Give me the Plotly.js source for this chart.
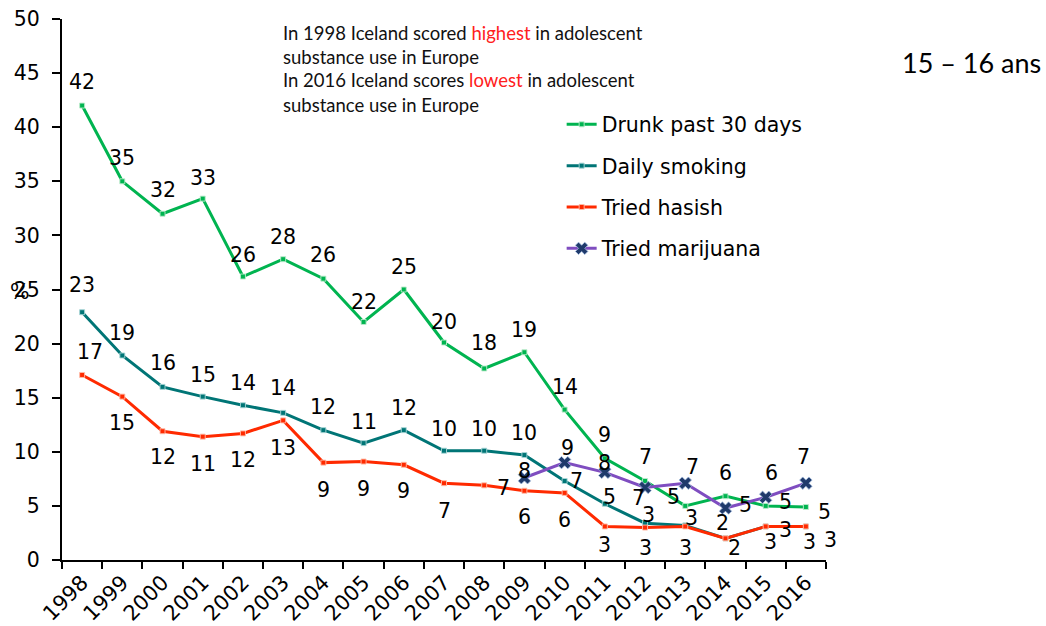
<!DOCTYPE html>
<html>
<head>
<meta charset="utf-8">
<script src="https://cdn.plot.ly/plotly-3.0.1.min.js"></script>
<style>html,body{margin:0;padding:0;background:#fff;}#chart{width:1046px;height:626px;}</style>
</head>
<body>
<div id="chart"></div>
<script>
// ---- data ----
var years = ["1998","1999","2000","2001","2002","2003","2004","2005","2006","2007","2008","2009","2010","2011","2012","2013","2014","2015","2016"];
var drunk = [42, 35, 32, 33.4, 26.2, 27.8, 26, 22, 25, 20.1, 17.7, 19.2, 13.9, 9.4, 7.3, 5.0, 5.9, 5.0, 4.9];
var smoking = [22.9, 18.9, 16.0, 15.1, 14.3, 13.6, 12.0, 10.8, 12.0, 10.1, 10.1, 9.7, 7.3, 5.2, 3.4, 3.2, 2.0, 3.1, 3.1];
var hasish = [17.1, 15.1, 11.9, 11.4, 11.7, 12.9, 9.0, 9.1, 8.8, 7.1, 6.9, 6.4, 6.2, 3.1, 3.0, 3.1, 2.0, 3.1, 3.1];
var marijuana = [null, null, null, null, null, null, null, null, null, null, null, 7.6, 9.0, 8.1, 6.7, 7.1, 4.8, 5.8, 7.1];
var seriesNames = ["Drunk past 30 days", "Daily smoking", "Tried hasish", "Tried marijuana"];

// ---- label placement (pixel offsets [dx, dy], screen down = +) ----
var offDrunk = [[0,-24],[0,-23],[0,-24],[0,-21],[0,-22],[0,-22],[0,-24],[0,-20],[0,-23],[0,-21],[0,-25],[0,-22],[0,-23],[0,-23],[0,-24],[-12,-9],[0,-23],[20,-4],[19,5]];
var offSmoke = [[0,-27],[0,-23],[0,-24],[0,-22],[0,-22],[0,-25],[0,-23],[0,-21],[0,-22],[0,-22],[0,-22],[0,-22],[12,0],[5,-7],[3,-8],[6,-7],[-3,-15],[20,4],[25,14]];
var offHasish = [[8,-23],[0,26],[0,26],[0,27],[0,27],[0,28],[0,27],[0,27],[0,26],[0,28],[19,3],[0,26],[0,27],[0,19],[0,20],[0,22],[9,10],[5,16],[4,16]];
var offMari = [null,null,null,null,null,null,null,null,null,null,null,[0,-7],[3,-15],[0,-9],[-7,10],[7,-16],[20,-3],[6,-24],[-2,-26]];

var colors = ["#00B450", "#007576", "#FF2A00", "#7F4DC0"];
var sansFam = "DejaVu Sans, sans-serif";
var labelFont = {family: sansFam, size: 20.5, color: "#000"};

function lineTrace(vals, name, color, marker) {
  return {
    x: years, y: vals, name: name, type: "scatter", mode: "lines+markers",
    line: {color: color, width: 3},
    marker: marker,
    legendgroup: name, connectgaps: false, hoverinfo: "x+y+name"
  };
}

var traces = [
  lineTrace(drunk, seriesNames[0], colors[0], {symbol: "square", size: 5, color: colors[0], line: {color: "rgba(190,235,205,0.9)", width: 1}}),
  lineTrace(smoking, seriesNames[1], colors[1], {symbol: "square", size: 5, color: colors[1], line: {color: "rgba(170,215,215,0.9)", width: 1}}),
  lineTrace(hasish, seriesNames[2], colors[2], {symbol: "square", size: 5, color: colors[2], line: {color: "rgba(255,190,170,0.9)", width: 1}}),
  lineTrace(marijuana, seriesNames[3], colors[3], {symbol: "x", size: 11, color: "#1F3A6B", line: {color: "rgba(160,185,220,0.8)", width: 1}})
];

var annotations = [];
function addLabels(vals, offs) {
  for (var i = 0; i < vals.length; i++) {
    if (vals[i] === null) continue;
    var o = offs[i];
    annotations.push({
      x: i, y: vals[i], xref: "x", yref: "y",
      text: String(Math.round(vals[i])), showarrow: false,
      xshift: o[0], yshift: -o[1], font: labelFont
    });
  }
}
addLabels(drunk, offDrunk);
addLabels(smoking, offSmoke);
addLabels(hasish, offHasish);
addLabels(marijuana, offMari);

var noteFont = {family: "Lato, Open Sans, sans-serif", size: 18.5, color: "#111"};
var noteLines = [
  "In 1998 Iceland scored <span style='color:#FF2020'>highest</span> in adolescent",
  "substance use in Europe",
  "In 2016 Iceland scores <span style='color:#FF2020'>lowest</span> in adolescent",
  "substance use in Europe"
];
var noteY = [0.974, 0.930, 0.887, 0.841];
for (var k = 0; k < noteLines.length; k++) {
  annotations.push({xref: "paper", yref: "paper", x: 0.287, y: noteY[k], xanchor: "left", yanchor: "middle",
    text: noteLines[k], showarrow: false, font: noteFont});
}
annotations.push({xref: "paper", yref: "paper", x: 1.0969, y: 0.9187, xanchor: "left", yanchor: "middle",
  text: "15 – 16 ans", showarrow: false, font: {family: "Lato, sans-serif", size: 27, color: "#000"}});
annotations.push({xref: "paper", yref: "paper", x: -0.0555, y: 0.4954, xanchor: "center", yanchor: "middle",
  text: "%", showarrow: false, font: labelFont});

var layout = {
  width: 1046, height: 626,
  margin: {l: 62, r: 220, t: 19, b: 66},
  paper_bgcolor: "#fff", plot_bgcolor: "#fff",
  showlegend: true,
  legend: {x: 0.654, y: 0.842, xanchor: "left", yanchor: "top", traceorder: "grouped", tracegroupgap: 11.7,
    font: {family: sansFam, size: 20.5, color: "#000"}, bgcolor: "rgba(0,0,0,0)"},
  xaxis: {type: "category", range: [-0.5, 18.5], tickson: "boundaries", ticks: "outside", ticklen: 7, tickwidth: 2,
    tickcolor: "#000", showline: true, linecolor: "#000", linewidth: 2, showgrid: false, zeroline: false,
    tickangle: -45, tickfont: {family: sansFam, size: 21, color: "#000"}},
  yaxis: {range: [0, 50], dtick: 5, ticks: "outside", ticklen: 8, tickwidth: 2, tickcolor: "#000",
    showline: true, linecolor: "#000", linewidth: 2, showgrid: false, zeroline: false, ticklabelstandoff: 8,
    tickfont: {family: sansFam, size: 20.5, color: "#000"}},
  annotations: annotations
};

Plotly.newPlot("chart", traces, layout, {displayModeBar: false, staticPlot: true});
</script>
</body>
</html>
